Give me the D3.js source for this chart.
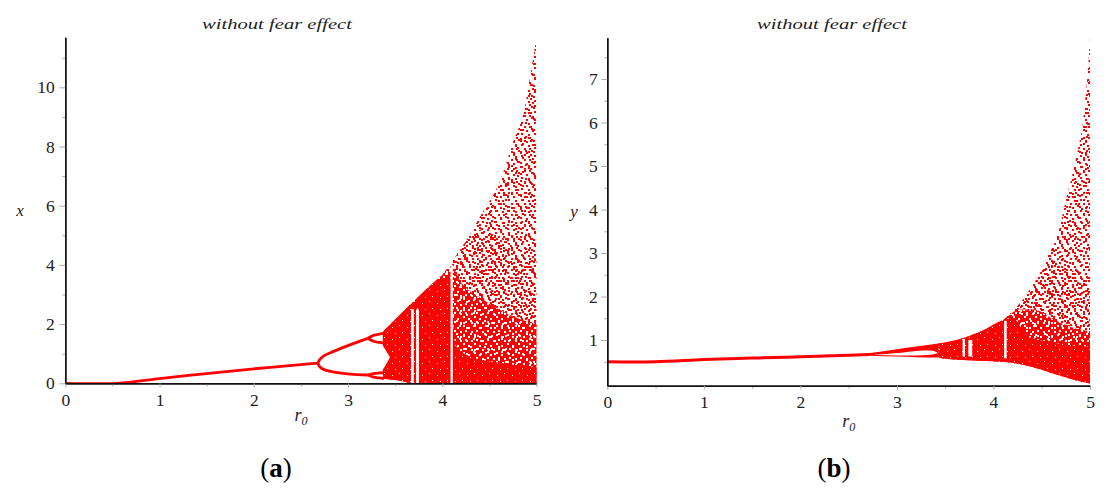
<!DOCTYPE html>
<html>
<head>
<meta charset="utf-8">
<script src="https://cdn.jsdelivr.net/npm/d3@7"></script>
<style>
  body { margin: 0; background: #fff; }
  svg { display: block; }
  text { font-family: "Liberation Serif", "DejaVu Serif", serif; }
</style>
</head>
<body>
<div id="chart"></div>
<script>
// ---- tick values ----
var xTicks = [0, 1, 2, 3, 4, 5];
var xMinor = [0.5, 1.5, 2.5, 3.5, 4.5];
var yTicksA = [0, 2, 4, 6, 8, 10];
var yMinorA = [1, 3, 5, 7, 9, 11];
var yTicksB = [1, 2, 3, 4, 5, 6, 7];
var yMinorB = [0.5, 1.5, 2.5, 3.5, 4.5, 5.5, 6.5, 7.5];

// ---- panel (a): prey x vs r0 ----
// stable branch
var fixA_r = [0, 0.55, 1.0, 1.5, 2.0, 2.5, 2.68];
var fixA_x = [0, 0, 0.16, 0.33, 0.49, 0.63, 0.68];
// period-2 branches
var p2A_r = [2.68, 2.70, 2.74, 2.84, 3.02, 3.21];
var p2upA_x = [0.68, 0.80, 0.92, 1.07, 1.30, 1.52];
var p2loA_x = [0.68, 0.56, 0.47, 0.39, 0.31, 0.28];
// period-4 branches
var p4A_r = [3.21, 3.27, 3.33, 3.38];
var p4aA_x = [1.52, 1.62, 1.66, 1.70];
var p4bA_x = [1.52, 1.42, 1.38, 1.36];
var p4cA_x = [0.28, 0.33, 0.35, 0.36];
var p4dA_x = [0.28, 0.21, 0.18, 0.16];
// chaotic region: outer envelope and denser zones
var envA_r = [3.37, 3.5, 3.66, 3.8, 4.0, 4.1, 4.25, 4.42, 4.61, 4.76, 4.87, 4.95, 5.0];
var envA_x = [1.74, 2.12, 2.65, 2.98, 3.66, 4.1, 4.8, 5.74, 6.81, 8.22, 9.23, 10.7, 11.7];
var lowA_r = [3.37, 3.45, 3.55, 3.66, 5.0];
var lowA_x = [0.16, 0.13, 0.09, 0.02, 0];
var hiA_r = [3.37, 3.66, 4.0, 4.1, 4.25, 4.42, 4.6, 4.8, 5.0];
var hiA_x = [1.74, 2.65, 3.66, 4.1, 4.8, 5.2, 5.0, 4.5, 4.2];
var midA_r = [3.37, 3.66, 4.0, 4.1, 4.2, 4.4, 4.6, 4.8, 5.0];
var midA_x = [1.74, 2.65, 3.66, 3.9, 3.4, 2.9, 2.5, 2.2, 2.0];
var coreA_r = [3.37, 3.66, 3.9, 4.08, 4.14, 4.3, 4.6, 5.0];
var coreA_x = [1.74, 2.65, 3.35, 3.6, 1.3, 0.9, 0.7, 0.55];
// gap where the period-4 loops merge into the band
var notchA_r = [3.36, 3.40, 3.445];
var notchUpA_x = [1.32, 1.12, 0.88];
var notchLoA_x = [0.42, 0.62, 0.88];
// periodic windows
var winA_r0 = [3.668, 3.722, 4.088];
var winA_r1 = [3.698, 3.752, 4.112];
var winA_lo = [0, 0, 0];
var winA_hi = [2.5, 2.5, 4.0];

// ---- panel (b): predator y vs r0 ----
var fixB_r = [0, 0.5, 1.0, 1.5, 2.0, 2.5, 2.72];
var fixB_y = [0.5, 0.5, 0.55, 0.585, 0.615, 0.65, 0.665];
var bandB_r = [2.6, 2.72, 3.0, 3.2, 3.43];
var bandUpB_y = [0.655, 0.70, 0.79, 0.85, 0.92];
var bandLoB_y = [0.655, 0.64, 0.62, 0.605, 0.60];
var wedgeB_r = [2.77, 3.0, 3.2, 3.35, 3.43];
var wedgeUpB_y = [0.66, 0.70, 0.75, 0.76, 0.70];
var wedgeLoB_y = [0.655, 0.645, 0.645, 0.66, 0.70];
var envB_r = [3.43, 3.65, 3.9, 4.1, 4.27, 4.42, 4.56, 4.68, 4.75, 4.82, 4.88, 4.93, 4.97, 5.0];
var envB_y = [0.92, 1.02, 1.23, 1.46, 1.84, 2.30, 2.92, 3.53, 4.22, 4.83, 5.44, 6.06, 6.98, 7.94];
var lowB_r = [3.43, 3.5, 4.0, 4.24, 4.45, 4.6, 4.72, 4.86, 5.0];
var lowB_y = [0.60, 0.57, 0.51, 0.46, 0.35, 0.24, 0.16, 0.07, 0.0];
var hiB_r = [3.43, 3.65, 3.9, 4.1, 4.27, 4.42, 4.56, 4.7, 4.85, 5.0];
var hiB_y = [0.92, 1.02, 1.23, 1.46, 1.84, 2.3, 2.7, 2.75, 2.55, 2.4];
var midB_r = [3.43, 3.65, 3.9, 4.1, 4.27, 4.42, 4.6, 4.8, 5.0];
var midB_y = [0.92, 1.02, 1.23, 1.46, 1.7, 1.7, 1.5, 1.3, 1.2];
var coreB_r = [3.43, 3.65, 3.9, 4.1, 4.2, 4.35, 4.6, 5.0];
var coreB_y = [0.92, 1.02, 1.23, 1.46, 1.5, 1.1, 0.95, 0.85];
var winB_r0 = [3.68, 3.74, 4.11];
var winB_r1 = [3.705, 3.78, 4.137];
var winB_lo = [0.62, 0.62, 0.58];
var winB_hi = [1.02, 1.0, 1.44];

var RED = "#ff0000";
var SERIF = "'Liberation Serif', 'DejaVu Serif', serif";

var svg = d3.select("#chart").append("svg")
    .attr("width", 1116)
    .attr("height", 498);

var defs = svg.append("defs");

// speckle patterns standing in for the scattered iterates
function addPattern(id, w, h, bg, fg, size, pts) {
  var p = defs.append("pattern")
      .attr("id", id)
      .attr("patternUnits", "userSpaceOnUse")
      .attr("width", w)
      .attr("height", h);
  if (bg) p.append("rect").attr("width", w).attr("height", h).attr("fill", bg);
  p.selectAll("rect.d")
    .data(pts)
    .enter().append("rect")
      .attr("class", "d")
      .attr("x", function(d) { return d[0]; })
      .attr("y", function(d) { return d[1]; })
      .attr("width", size)
      .attr("height", size)
      .attr("fill", fg)
      .attr("shape-rendering", "crispEdges");
}
addPattern("sp1", 13, 11, null, RED, 2, [[1,1],[8,2],[4,5],[11,7],[6,9],[0,8],[9,5]]);
addPattern("sp2", 17, 14, null, RED, 2, [[3,0],[12,3],[7,7],[15,10],[1,11],[10,12],[5,4],[14,0]]);
addPattern("sp3", 19, 16, null, RED, 2, [[2,2],[10,1],[16,5],[6,8],[13,10],[0,12],[8,14],[17,13],[4,5]]);
addPattern("md1", 11, 9, RED, "#fff", 2, [[1,1],[6,3],[9,7],[3,6]]);
addPattern("md2", 14, 13, null, "#fff", 2, [[4,2],[11,0],[8,8],[1,10],[12,11]]);
addPattern("dn", 15, 12, RED, "#fff", 1, [[2,3],[9,1],[12,8],[5,9]]);

function panel(o) {
  var x = d3.scaleLinear().domain([0, 5]).range(o.xr);
  var y = d3.scaleLinear().domain(o.yd).range(o.yr);

  var clipId = "clip" + o.id;
  defs.append("clipPath").attr("id", clipId)
    .append("rect")
      .attr("x", o.xr[0])
      .attr("y", o.yr[1] - 2)
      .attr("width", o.xr[1] - o.xr[0] + 1)
      .attr("height", o.yr[0] - o.yr[1] + 2);

  var g = svg.append("g").attr("clip-path", "url(#" + clipId + ")");

  var smooth = d3.line()
      .x(function(d) { return x(d[0]); })
      .y(function(d) { return y(d[1]); })
      .curve(d3.curveMonotoneX);
  var branch = d3.line()
      .x(function(d) { return x(d[0]); })
      .y(function(d) { return y(d[1]); })
      .curve(d3.curveCatmullRom.alpha(0.5));

  function region(ur, uv, lr, lv) {
    var up = smooth(d3.zip(ur, uv));
    var lo = smooth(d3.zip(lr, lv).reverse());
    return up + "L" + lo.slice(1) + "Z";
  }

  // solid bands before chaos
  o.bands.forEach(function(b) {
    g.append("path").attr("d", region(b[0], b[1], b[0], b[2])).attr("fill", b[3]);
  });

  // chaotic region, sparse to dense
  var env = region(o.env[0], o.env[1], o.low[0], o.low[1]);
  var hi = region(o.hi[0], o.hi[1], o.low[0], o.low[1]);
  var mid = region(o.mid[0], o.mid[1], o.low[0], o.low[1]);
  g.append("path").attr("d", env).attr("fill", "url(#sp1)");
  g.append("path").attr("d", env).attr("fill", "url(#sp2)");
  g.append("path").attr("d", hi).attr("fill", "url(#sp3)");
  g.append("path").attr("d", mid).attr("fill", "url(#md1)");
  g.append("path").attr("d", mid).attr("fill", "url(#md2)");
  g.append("path").attr("d", region(o.core[0], o.core[1], o.low[0], o.low[1])).attr("fill", "url(#dn)");

  o.holes.forEach(function(b) {
    g.append("path").attr("d", region(b[0], b[1], b[0], b[2])).attr("fill", "#fff");
  });

  // periodic windows
  g.selectAll("rect.win")
    .data(d3.range(o.win[0].length))
    .enter().append("rect")
      .attr("class", "win")
      .attr("x", function(i) { return x(o.win[0][i]); })
      .attr("width", function(i) { return x(o.win[1][i]) - x(o.win[0][i]); })
      .attr("y", function(i) { return y(o.win[3][i]); })
      .attr("height", function(i) { return y(o.win[2][i]) - y(o.win[3][i]); })
      .attr("fill", "#fff");

  // branches
  o.lines.forEach(function(l) {
    g.append("path")
      .attr("d", branch(d3.zip(l[0], l[1])))
      .attr("fill", "none")
      .attr("stroke", RED)
      .attr("stroke-width", l[2] || 2.8);
  });

  // axes
  var base = o.yr[0];
  var xMin = svg.append("g").attr("transform", "translate(0," + base + ")")
      .call(d3.axisBottom(x).tickValues(xMinor).tickSize(3).tickSizeOuter(0).tickFormat(""));
  var xa = svg.append("g").attr("transform", "translate(0," + base + ")")
      .call(d3.axisBottom(x).tickValues(xTicks).tickSize(4).tickSizeOuter(0).tickPadding(6)
        .tickFormat(d3.format("d")));
  var yMin = svg.append("g").attr("transform", "translate(" + o.xr[0] + ",0)")
      .call(d3.axisLeft(y).tickValues(o.yMinor).tickSize(3).tickSizeOuter(0).tickFormat(""));
  var ya = svg.append("g").attr("transform", "translate(" + o.xr[0] + ",0)")
      .call(d3.axisLeft(y).tickValues(o.yTicks).tickSize(6).tickSizeOuter(0).tickPadding(o.yPad)
        .tickFormat(d3.format("d")));
  [xMin, xa, yMin, ya].forEach(function(a) {
    a.attr("font-family", SERIF).attr("font-size", 17.5);
    a.selectAll(".domain").attr("stroke", "#111").attr("stroke-width", 1.4);
    a.selectAll(".tick line").attr("stroke", "#aaa");
    a.selectAll(".tick text").attr("fill", "#222");
  });

  // texts
  svg.append("text")
    .attr("x", o.titleX).attr("y", 29)
    .attr("text-anchor", "middle")
    .attr("textLength", 150)
    .attr("lengthAdjust", "spacingAndGlyphs")
    .style("font-style", "italic")
    .style("font-size", "14px")
    .attr("fill", "#222")
    .text("without fear effect");

  svg.append("text")
    .attr("x", o.yLabel[0]).attr("y", o.yLabel[1])
    .attr("text-anchor", "middle")
    .style("font-style", "italic")
    .style("font-size", "17px")
    .attr("fill", "#222")
    .text(o.yName);

  var xl = svg.append("text")
    .attr("x", (o.xr[0] + o.xr[1]) / 2).attr("y", o.xLabelY)
    .attr("text-anchor", "middle")
    .style("font-style", "italic")
    .style("font-size", "18px")
    .attr("fill", "#222");
  xl.append("tspan").text("r");
  xl.append("tspan").attr("dy", 4).style("font-size", "12px").text("0");

  var cap = svg.append("text")
    .attr("x", o.capX).attr("y", 477)
    .attr("text-anchor", "middle")
    .style("font-size", "27px")
    .attr("fill", "#000");
  cap.append("tspan").text("(");
  cap.append("tspan").style("font-weight", "bold").text(o.cap);
  cap.append("tspan").text(")");
}

panel({
  id: "a",
  xr: [65.3, 536.5],
  yd: [0, 11.69],
  yr: [383.3, 37.3],
  yTicks: yTicksA, yMinor: yMinorA, yPad: 4.5,
  bands: [],
  env: [envA_r, envA_x],
  low: [lowA_r, lowA_x],
  hi: [hiA_r, hiA_x],
  mid: [midA_r, midA_x],
  core: [coreA_r, coreA_x],
  holes: [[notchA_r, notchUpA_x, notchLoA_x]],
  win: [winA_r0, winA_r1, winA_lo, winA_hi],
  lines: [
    [fixA_r, fixA_x],
    [p2A_r, p2upA_x], [p2A_r, p2loA_x],
    [p4A_r, p4aA_x], [p4A_r, p4bA_x], [p4A_r, p4cA_x], [p4A_r, p4dA_x]
  ],
  titleX: 277,
  yName: "x", yLabel: [20, 216],
  xLabelY: 421,
  cap: "a", capX: 276
});

panel({
  id: "b",
  xr: [607.3, 1090],
  yd: [-0.05, 7.95],
  yr: [385.7, 37.7],
  yTicks: yTicksB, yMinor: yMinorB, yPad: 3.5,
  bands: [
    [bandB_r, bandUpB_y, bandLoB_y, RED],
    [wedgeB_r, wedgeUpB_y, wedgeLoB_y, "#fff"]
  ],
  env: [envB_r, envB_y],
  low: [lowB_r, lowB_y],
  hi: [hiB_r, hiB_y],
  mid: [midB_r, midB_y],
  core: [coreB_r, coreB_y],
  holes: [],
  win: [winB_r0, winB_r1, winB_lo, winB_hi],
  lines: [[fixB_r, fixB_y, 3]],
  titleX: 832,
  yName: "y", yLabel: [574, 217],
  xLabelY: 427,
  cap: "b", capX: 834
});
</script>
</body>
</html>
